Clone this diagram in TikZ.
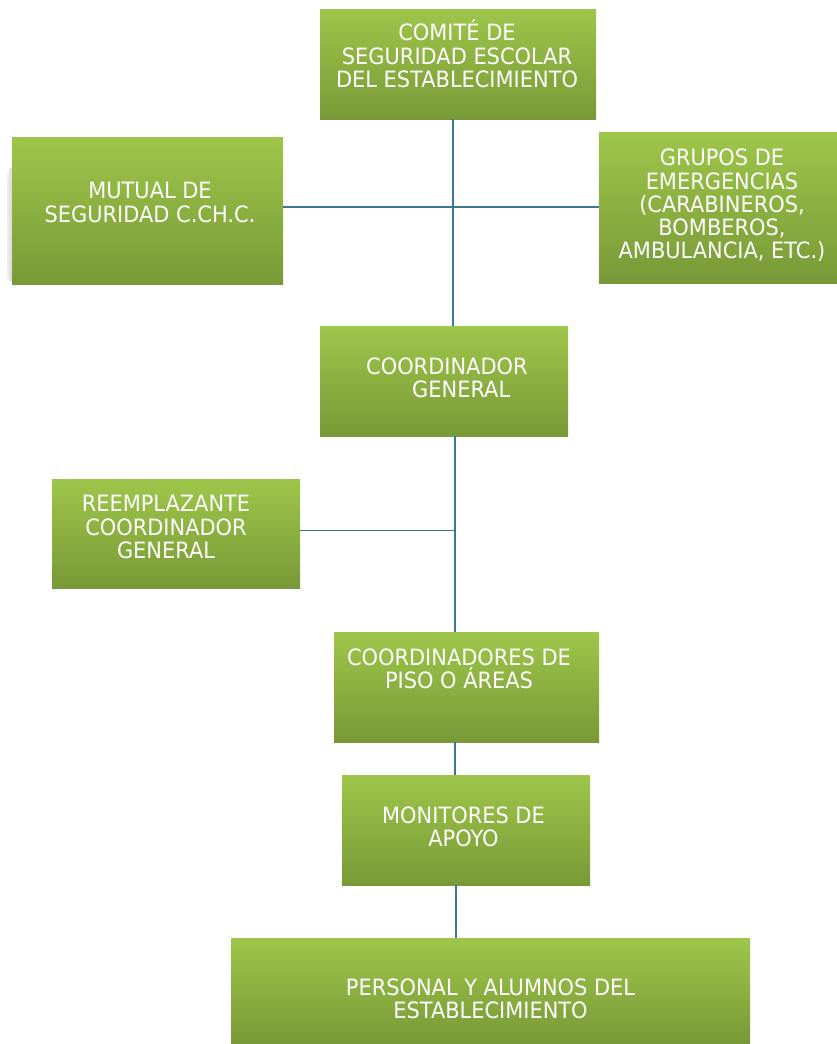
\documentclass[tikz,border=0pt]{standalone}
\usepackage{fontspec}
\setmainfont{DejaVu Sans}[FakeStretch=0.93]
\definecolor{gtop}{RGB}{158,198,74}
\definecolor{gbot}{RGB}{120,153,55}
\definecolor{conn}{RGB}{62,118,150}
\tikzset{
  box/.style={rectangle, draw=none, top color=gtop, bottom color=gbot, inner sep=0pt, anchor=north west},
  lbl/.style={text=white, align=center, inner sep=0pt, font=\fontsize{22.5}{23.3}\selectfont},
  link/.style={draw=conn, line width=1.4pt}
}
\begin{document}
\begin{tikzpicture}[x=1pt,y=-1pt]
\useasboundingbox (0,0) rectangle (837,1044);
% soft shadow left of the mutual box
\fill[black!12] (9,168) rectangle (12,281);
\fill[black!6] (7,172) rectangle (9,279);
% boxes
\node[box, minimum width=276pt, minimum height=110pt] (b1) at (320,9) {};
\node[box, minimum width=271pt, minimum height=147pt] (b2) at (12,137) {};
\node[box, minimum width=238pt, minimum height=151pt] (b3) at (599,132) {};
\node[box, minimum width=248pt, minimum height=110pt] (b4) at (320,326) {};
\node[box, minimum width=248pt, minimum height=109pt] (b5) at (52,479) {};
\node[box, minimum width=265pt, minimum height=110pt] (b6) at (334,632) {};
\node[box, minimum width=248pt, minimum height=110pt] (b7) at (342,775) {};
\node[box, minimum width=519pt, minimum height=105pt] (b8) at (231,938) {};
% labels
\node[lbl] (t1) at (457,54) {COMITÉ DE\\SEGURIDAD ESCOLAR\\DEL ESTABLECIMIENTO};
\node[lbl] (t2) at (150,202.5) {MUTUAL DE\\SEGURIDAD C.CH.C.};
\node[lbl] (t3) at (722,205.5) {GRUPOS DE\\EMERGENCIAS\\(CARABINEROS,\\BOMBEROS,\\AMBULANCIA, ETC.)};
\node[lbl, align=left, anchor=west] (t4) at (366,378) {COORDINADOR\\\hspace*{46pt}GENERAL};
\node[lbl] (t5) at (166,527) {REEMPLAZANTE\\COORDINADOR\\GENERAL};
\node[lbl] (t6) at (459,669) {COORDINADORES DE\\PISO O ÁREAS};
\node[lbl] (t7) at (463.5,827) {MONITORES DE\\APOYO};
\node[lbl] (t8) at (490.5,999) {PERSONAL Y ALUMNOS DEL\\ESTABLECIMIENTO};
% junctions
\coordinate (j1) at (453,207);
\coordinate (j2) at (455,530.5);
\coordinate (j3) at (456,885);
% connectors
\draw[link] (b1.south -| j1) -- (b4.north -| j1);
\draw[link] (b2.east |- j1) -- (b3.west |- j1);
\draw[link] (b4.south -| j2) -- (b6.north -| j2);
\draw[link] (b5.east |- j2) -- (j2);
\draw[link] (b6.south -| j2) -- (b7.north -| j2);
\draw[link] (b7.south -| j3) -- (b8.north -| j3);
\end{tikzpicture}
\end{document}
